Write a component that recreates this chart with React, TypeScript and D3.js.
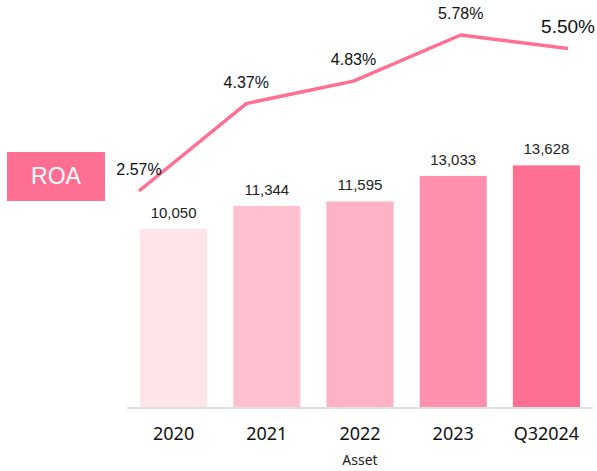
import React from "react";
import * as d3 from "d3";

const categories = ["2020", "2021", "2022", "2023", "Q32024"];
const assetValues = [10050, 11344, 11595, 13033, 13628];
const assetLabels = ["10,050", "11,344", "11,595", "13,033", "13,628"];
const roaValues = [2.57, 4.37, 4.83, 5.78, 5.5];
const roaLabels = ["2.57%", "4.37%", "4.83%", "5.78%", "5.50%"];
const barColors = ["#ffe4ea", "#ffc1cf", "#ffb2c6", "#ff8fac", "#ff6f91"];
const axisTitle = "Asset";
const legendLabel = "ROA";

const W = 597;
const H = 471;

export default function App() {
  const x = d3
    .scaleBand<string>()
    .domain(categories)
    .range([127, 593])
    .paddingInner(0.28)
    .paddingOuter(0.14);
  const yBar = d3.scaleLinear().domain([0, 13628]).range([407, 165.4]);
  const xLine = d3.scalePoint<string>().domain(categories).range([139, 568]);
  const yLine = d3.scaleLinear().domain([2.57, 5.78]).range([191, 35]);

  const linePath = d3
    .line<number>()
    .x((_, i) => xLine(categories[i]) as number)
    .y((d) => yLine(d))(roaValues);

  return (
    <svg
      width={W}
      height={H}
      style={{ position: "absolute", left: 0, top: 0, background: "#fff" }}
      fontFamily="'Liberation Sans', Arial, sans-serif"
    >
      {categories.map((c, i) => (
        <rect
          key={c}
          x={x(c)}
          y={yBar(assetValues[i])}
          width={x.bandwidth()}
          height={yBar(0) - yBar(assetValues[i])}
          fill={barColors[i]}
        />
      ))}
      <line x1={127} x2={593} y1={408} y2={408} stroke="#e0e0e0" strokeWidth={2} />
      {categories.map((c, i) => (
        <text
          key={"bl" + c}
          x={(x(c) as number) + x.bandwidth() / 2}
          y={yBar(assetValues[i]) - 11}
          textAnchor="middle"
          fontSize={15}
          fill="#222"
        >
          {assetLabels[i]}
        </text>
      ))}
      {categories.map((c) => (
        <text
          key={"t" + c}
          x={(x(c) as number) + x.bandwidth() / 2}
          y={440}
          textAnchor="middle"
          fontSize={18}
          fontFamily="'Noto Sans', sans-serif"
          fill="#111"
        >
          {c}
        </text>
      ))}
      <text x={360} y={465} textAnchor="middle" fontSize={14} fontFamily="'Noto Sans', sans-serif" fill="#222">
        {axisTitle}
      </text>
      <path d={linePath ?? ""} fill="none" stroke="#ff6f91" strokeWidth={3.5} strokeLinejoin="miter" />
      {categories.map((c, i) => (
        <text
          key={"rl" + c}
          x={xLine(c)}
          y={yLine(roaValues[i]) - 16}
          textAnchor="middle"
          fontSize={i === 4 ? 19 : 16}
          fill="#111"
        >
          {roaLabels[i]}
        </text>
      ))}
      <rect x={7} y={152} width={98} height={49} fill="#ff6f91" />
      <text x={56} y={184} textAnchor="middle" fontSize={23} fill="#fff">
        {legendLabel}
      </text>
    </svg>
  );
}
